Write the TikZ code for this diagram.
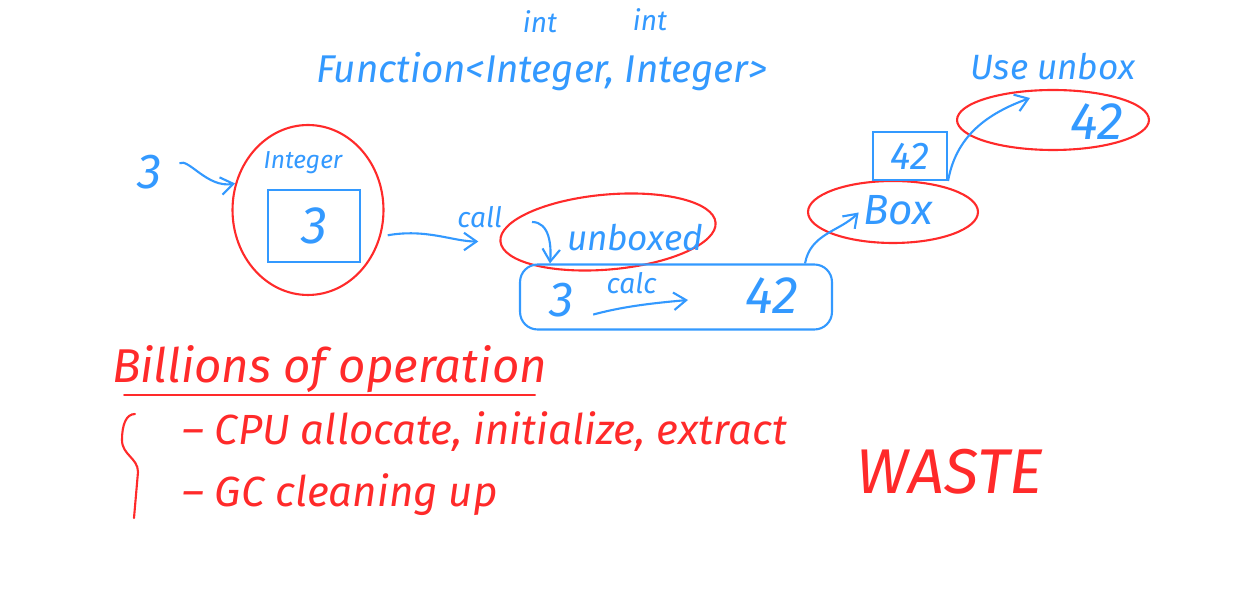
\documentclass[tikz,border=0pt]{standalone}
\usepackage{fontspec}
\setmainfont{Fira Sans}
\usepackage{xcolor}
\definecolor{cPen}{HTML}{3399FF}
\definecolor{cMark}{HTML}{FF2A2A}
\usepackage{tikz}
\usetikzlibrary{positioning,arrows.meta,shapes.geometric}
\tikzset{
  txt-blue/.style={text=cPen,font=\itshape\fontsize{#1}{#1}\selectfont,inner sep=1pt},
  txt-blue/.default=20,
  txt-red/.style={text=cMark,font=\itshape\fontsize{#1}{#1}\selectfont,inner sep=1pt},
  txt-red/.default=22,
  ring-red/.style={draw=cMark,line width=1.2pt,ellipse,inner sep=0pt},
  box-blue/.style={draw=cPen,line width=1.2pt,inner sep=0pt},
  arrow-pen/.style={-{Straight Barb[length=2.5mm,width=3.5mm]},line width=1.2pt,draw=cPen},
  line-red/.style={draw=cMark,line width=1.2pt,line cap=round},
}
\begin{document}
\begin{tikzpicture}[x=0.02cm,y=-0.02cm]
  \useasboundingbox (0,0) rectangle (1240,590);
  % signature on top
  \node[txt-blue=16] (int-a)  at (540,22) {int};
  \node[txt-blue=16] (int-b)  at (650,20) {int};
  \node[txt-blue=22] (fn-sig) at (542,72) {Function<Integer, Integer>};
  % boxing the input
  \node[txt-blue=28] (three-in) at (150,172) {3};
  \node[ring-red,minimum width=3.02cm,minimum height=3.4cm] (int-ring) at (308,210) {};
  \node[txt-blue=14] (int-lbl) at (303,163) {Integer};
  \node[box-blue,txt-blue=30,minimum width=1.84cm,minimum height=1.44cm] (int-box) at (314,226) {3};
  \draw[arrow-pen,shorten <=10pt] (three-in.east) to[out=30,in=190] (int-ring.160);
  % call and unbox
  \node[ring-red,rotate=5,minimum width=4.32cm,minimum height=1.5cm] (unbox-ring) at (608,232) {};
  \node[txt-blue=20] (unbox-lbl) at (635,238) {unboxed};
  \node[box-blue,rounded corners=10pt,minimum width=6.24cm,minimum height=1.3cm] (calc-box) at (676,297) {};
  \draw[arrow-pen,shorten <=4pt,shorten >=12pt] (int-ring.-20) to[out=10,in=180]
    node[txt-blue=16,pos=0.85,above=6pt] (call-lbl) {call} (unbox-ring.west);
  \coordinate (hook-top) at (532,222);
  \draw[arrow-pen] (hook-top) to[out=0,in=85] ([xshift=0.62cm]calc-box.north west);
  % calculation
  \node[txt-blue=28] (three-calc) at (562,300) {3};
  \node[txt-blue=30] (result) at (772,296) {42};
  \coordinate (calc-tip) at (688,300);
  \draw[arrow-pen,shorten <=10pt] (three-calc.south east) to[out=15,in=185]
    node[txt-blue=16,midway,above=6pt] (calc-lbl) {calc} (calc-tip);
  % boxing the result
  \node[ring-red,minimum width=3.4cm,minimum height=1.24cm] (box-ring) at (893,212) {};
  \node[txt-blue=24] (box-lbl) at (898,210) {Box};
  \draw[arrow-pen,shorten >=2pt] ([xshift=-0.56cm]calc-box.north east) to[out=80,in=225] (box-lbl.west);
  \node[box-blue,txt-blue=22,minimum width=1.48cm,minimum height=0.96cm] (box42) at (910,156) {42};
  % unboxing for use
  \node[ring-red,minimum width=3.84cm,minimum height=1.2cm] (top-ring) at (1053,120) {};
  \node[txt-blue=30] (top-lbl) at (1097,122) {42};
  \node[txt-blue=20] (use-lbl) at (1053,67) {Use unbox};
  \coordinate (up-tip) at (1030,98);
  \draw[arrow-pen] (box42.south east) to[out=80,in=200] (up-tip);
  % cost notes
  \node[txt-red=27,anchor=south west] (billions) at (110,395) {Billions of operation};
  \draw[line-red] ([xshift=8pt]billions.south west) -- ([xshift=-8pt]billions.south east);
  \draw[line-red] (135,414) .. controls (126,414) and (122,425) .. (122,440)
    .. controls (122,455) and (138,458) .. (138,472) -- (134,518);
  \node[txt-red=24,anchor=west] (cpu-item) at (180,432) {– CPU allocate, initialize, extract};
  \node[txt-red=24,anchor=west] (gc-item)  at (180,495) {– GC cleaning up};
  \node[txt-red=36] (waste) at (950,472) {WASTE};
\end{tikzpicture}
\end{document}
